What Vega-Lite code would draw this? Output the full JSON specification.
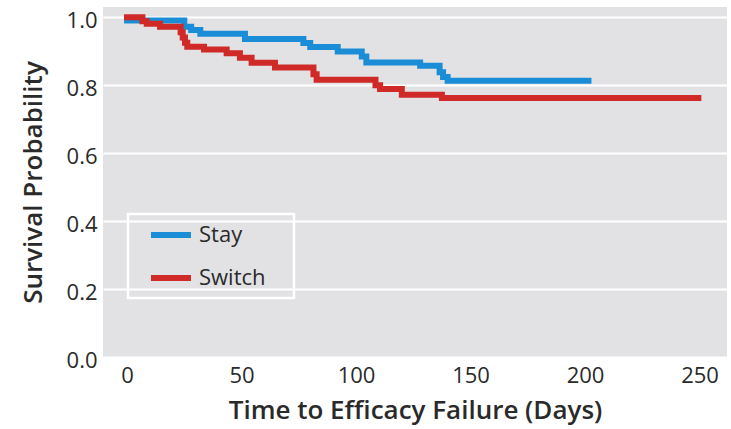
{
  "$schema": "https://vega.github.io/schema/vega-lite/v6.json",
  "width": 624,
  "height": 350,
  "autosize": {"type": "none"},
  "padding": {"left": 103, "top": 7, "right": 4, "bottom": 72},
  "background": "white",
  "config": {
    "view": {"fill": "#e2e2e4", "stroke": null},
    "font": "Open Sans"
  },
  "data": {
    "values": [
      {"group": "Stay", "day": 0, "p": 0.99},
      {"group": "Stay", "day": 25, "p": 0.972},
      {"group": "Stay", "day": 28, "p": 0.962},
      {"group": "Stay", "day": 32, "p": 0.951},
      {"group": "Stay", "day": 51.5, "p": 0.936},
      {"group": "Stay", "day": 77, "p": 0.924},
      {"group": "Stay", "day": 80, "p": 0.912},
      {"group": "Stay", "day": 92, "p": 0.899},
      {"group": "Stay", "day": 102.5, "p": 0.884},
      {"group": "Stay", "day": 104.5, "p": 0.867},
      {"group": "Stay", "day": 128, "p": 0.857},
      {"group": "Stay", "day": 136.5, "p": 0.838},
      {"group": "Stay", "day": 138, "p": 0.824},
      {"group": "Stay", "day": 140, "p": 0.813},
      {"group": "Stay", "day": 201.5, "p": 0.813},
      {"group": "Switch", "day": 0, "p": 1.0},
      {"group": "Switch", "day": 6.7, "p": 0.988},
      {"group": "Switch", "day": 8.6, "p": 0.981},
      {"group": "Switch", "day": 14.4, "p": 0.972},
      {"group": "Switch", "day": 23.4, "p": 0.956},
      {"group": "Switch", "day": 24.3, "p": 0.94},
      {"group": "Switch", "day": 25.3, "p": 0.925},
      {"group": "Switch", "day": 26.3, "p": 0.913},
      {"group": "Switch", "day": 33.6, "p": 0.905},
      {"group": "Switch", "day": 43.5, "p": 0.894},
      {"group": "Switch", "day": 49.3, "p": 0.881},
      {"group": "Switch", "day": 54.4, "p": 0.866},
      {"group": "Switch", "day": 64.6, "p": 0.852},
      {"group": "Switch", "day": 81.4, "p": 0.832},
      {"group": "Switch", "day": 82.8, "p": 0.816},
      {"group": "Switch", "day": 108.5, "p": 0.8},
      {"group": "Switch", "day": 110.5, "p": 0.789},
      {"group": "Switch", "day": 120, "p": 0.772},
      {"group": "Switch", "day": 137.5, "p": 0.762},
      {"group": "Switch", "day": 249.5, "p": 0.762}
    ]
  },
  "mark": {"type": "line", "interpolate": "step-after", "strokeWidth": 6, "strokeCap": "square"},
  "encoding": {
    "x": {
      "field": "day", "type": "quantitative",
      "scale": {"domain": [-10.5, 262], "nice": false, "zero": false},
      "axis": {
        "values": [0, 50, 100, 150, 200, 250],
        "title": "Time to Efficacy Failure (Days)",
        "grid": false, "domain": false, "ticks": false,
        "labelFontSize": 22, "labelColor": "#2a2a2a", "labelPadding": 8,
        "titleFontSize": 26, "titleFontWeight": 600, "titleColor": "#2a2a2a", "titlePadding": 11
      }
    },
    "y": {
      "field": "p", "type": "quantitative",
      "scale": {"domain": [0, 1.03], "nice": false},
      "axis": {
        "values": [0, 0.2, 0.4, 0.6, 0.8, 1.0],
        "format": ".1f",
        "title": "Survival Probability",
        "grid": true, "gridColor": "white", "gridWidth": 2, "gridOpacity": 1,
        "domain": false, "ticks": false,
        "labelFontSize": 22, "labelColor": "#2a2a2a", "labelPadding": 6, "labelOffset": 3,
        "titleFontSize": 26, "titleFontWeight": 600, "titleColor": "#2a2a2a", "titlePadding": 20
      }
    },
    "color": {
      "field": "group", "type": "nominal",
      "scale": {"domain": ["Stay", "Switch"], "range": ["#1a8dd6", "#cf2a28"]},
      "legend": {
        "title": "M",
        "titleOrient": "right", "titleOpacity": 0, "titleFontSize": 21, "titlePadding": 0,
        "orient": "none", "legendX": 25, "legendY": 207,
        "strokeColor": "white",
        "padding": 8,
        "symbolType": "M-2,0H2", "symbolSize": 400, "symbolStrokeWidth": 6, "symbolOffset": 22,
        "labelFontSize": 22, "labelColor": "#2a2a2a", "labelOffset": 15,
        "rowPadding": 18,
        "encode": {"legend": {"update": {"strokeWidth": {"value": 2.5}}}}
      }
    }
  }
}
